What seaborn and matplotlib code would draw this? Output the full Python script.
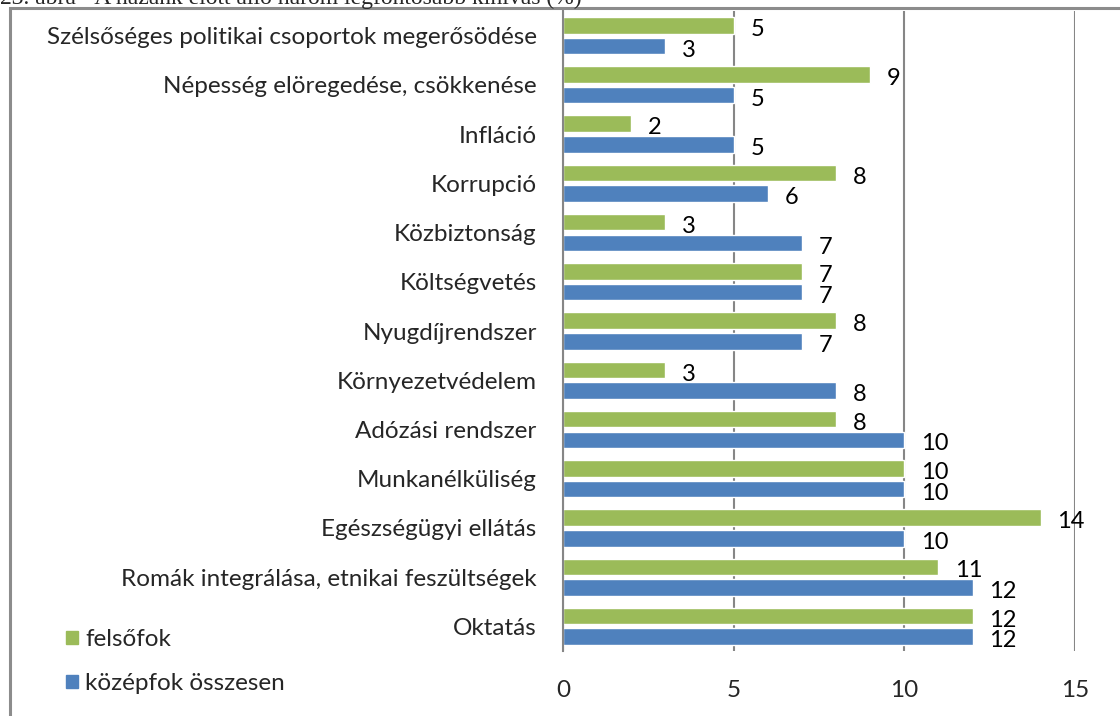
import matplotlib
matplotlib.use('Agg')
import matplotlib.pyplot as plt
import matplotlib.patches as mpatches
import seaborn as sns
import pandas as pd

# data, top to bottom as in the chart
categories = ['Szélsőséges politikai csoportok megerősödése',
              'Népesség elöregedése, csökkenése',
              'Infláció',
              'Korrupció',
              'Közbiztonság',
              'Költségvetés',
              'Nyugdíjrendszer',
              'Környezetvédelem',
              'Adózási rendszer',
              'Munkanélküliség',
              'Egészségügyi ellátás',
              'Romák integrálása, etnikai feszültségek',
              'Oktatás']
felsofok = [5, 9, 2, 8, 3, 7, 8, 3, 8, 10, 14, 11, 12]
kozepfok = [3, 5, 5, 6, 7, 7, 7, 8, 10, 10, 10, 12, 12]
series = ['felsőfok', 'középfok összesen']
x_ticks = [0, 5, 10, 15]
caption = '23. ábra - A hazánk előtt álló három legfontosabb kihívás (%)'

colors = ['#9BBB59', '#4F81BD']
grid_col = '#868686'
fs = 17.5

sns.set_style('white')
plt.rcParams['font.family'] = ['Lato', 'DejaVu Sans']

df = pd.DataFrame({
    'kategoria': categories * 2,
    'ertek': felsofok + kozepfok,
    'csoport': [series[0]] * len(categories) + [series[1]] * len(categories),
})

fig = plt.figure(figsize=(11.2, 7.16), dpi=100)
ax = fig.add_axes([0.5027, 0.0908, 0.4571, 0.8938])

sns.barplot(data=df, y='kategoria', x='ertek', hue='csoport', order=categories,
            hue_order=series, palette=colors, orient='h', width=0.84, gap=0.2,
            saturation=1, legend=False, ax=ax)

for cont in ax.containers:
    labs = ax.bar_label(cont, fmt='%g', padding=12, fontsize=17, color='black')
    for t in labs:
        t.xyann = (12, -3)  # labels sit a bit below the bar centre

ax.set_xlim(0, 15)
ax.set_xticks(x_ticks)
ax.set_xlabel('')
ax.set_ylabel('')
ax.tick_params(axis='x', length=0, pad=21, labelsize=fs)
ax.tick_params(axis='y', length=0, pad=19, labelsize=fs)
ax.xaxis.grid(True, color=grid_col, linewidth=1.5)
ax.set_axisbelow(True)
for s in ['top', 'right', 'bottom']:
    ax.spines[s].set_visible(False)
ax.spines['left'].set_color(grid_col)
ax.spines['left'].set_linewidth(1.5)

handles = [mpatches.Patch(color=c, label=l) for c, l in zip(colors, series)]
fig.legend(handles=handles, loc='upper left', bbox_to_anchor=(0.05, 0.135),
           frameon=False, fontsize=fs, handlelength=0.5, handleheight=0.5,
           handletextpad=0.3, labelspacing=0.95, borderaxespad=0)

# outer frame (right and bottom edges fall outside the picture)
fig.patches.append(mpatches.Rectangle((0.009, -0.1), 1.2, 1.089, transform=fig.transFigure,
                                      fill=False, edgecolor='#8c8c8c', linewidth=2.2))
fig.text(0.0, 0.9944, caption, family='Liberation Serif', fontsize=17, va='baseline')

fig.savefig('out.png', dpi=100)
